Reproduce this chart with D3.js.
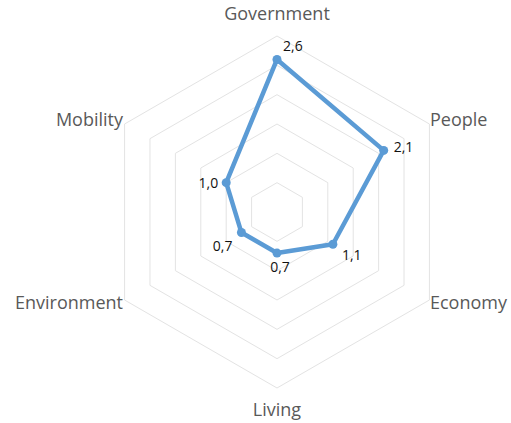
<!DOCTYPE html>
<html>
<head>
<meta charset="utf-8">
<script src="https://cdn.jsdelivr.net/npm/d3@7"></script>
<style>
  body { margin: 0; background: #fff; }
</style>
</head>
<body>
<div id="radar"></div>
<script>
// Data
var categories = ["Government", "People", "Economy", "Living", "Environment", "Mobility"];
var values = [2.6, 2.1, 1.1, 0.7, 0.7, 1.0];
var valueLabels = ["2,6", "2,1", "1,1", "0,7", "0,7", "1,0"];
var gridLevels = [0.5, 1, 1.5, 2, 2.5, 3];

const width = 511, height = 423;
const cx = 277, cy = 212, radius = 176;

var svg = d3.select("#radar")
    .append("svg")
    .attr("width", width)
    .attr("height", height)
    .append("g")
    .attr("transform", "translate(" + cx + "," + cy + ")");

var r = d3.scaleLinear().domain([0, 3]).range([0, radius]);
var angle = d3.scalePoint().domain(categories).range([0, 2 * Math.PI * 5 / 6]);

function px(cat, v) { return r(v) * Math.sin(angle(cat)); }
function py(cat, v) { return -r(v) * Math.cos(angle(cat)); }

// grid hexagons
svg.selectAll(".grid")
    .data(gridLevels)
    .enter().append("polygon")
    .attr("points", function(l) {
        return categories.map(function(c) { return px(c, l) + "," + py(c, l); }).join(" ");
    })
    .style("fill", "none")
    .style("stroke", "#e3e3e3")
    .style("stroke-width", 1);

// series line
var line = d3.lineRadial()
    .angle(function(d, i) { return angle(categories[i]); })
    .radius(function(d) { return r(d); })
    .curve(d3.curveLinearClosed);

svg.append("path")
    .datum(values)
    .attr("d", line)
    .style("fill", "none")
    .style("stroke", "#5b9bd5")
    .style("stroke-width", 4.5)
    .style("stroke-linejoin", "round");

svg.selectAll(".dot")
    .data(values)
    .enter().append("circle")
    .attr("r", 4.5)
    .attr("cx", function(d, i) { return px(categories[i], d); })
    .attr("cy", function(d, i) { return py(categories[i], d); })
    .style("fill", "#5b9bd5");

// data labels (offsets from point, Excel-like placement)
var labelOffsets = [[6, -8, "start"], [10, 2, "start"], [9, 16, "start"], [3, 19, "middle"], [-9, 18, "end"], [-8, 5, "end"]];
svg.selectAll(".vlabel")
    .data(values)
    .enter().append("text")
    .attr("x", function(d, i) { return px(categories[i], d) + labelOffsets[i][0]; })
    .attr("y", function(d, i) { return py(categories[i], d) + labelOffsets[i][1]; })
    .attr("text-anchor", function(d, i) { return labelOffsets[i][2]; })
    .text(function(d, i) { return valueLabels[i]; })
    .style("font-family", "'Open Sans', sans-serif")
    .style("font-size", "14px")
    .style("fill", "#111");

// category labels
var catPos = [[0, -192, "middle"], [153, -86, "start"], [153, 97, "start"], [0, 204, "middle"], [-154, 97, "end"], [-154, -86, "end"]];
svg.selectAll(".clabel")
    .data(categories)
    .enter().append("text")
    .attr("x", function(d, i) { return catPos[i][0]; })
    .attr("y", function(d, i) { return catPos[i][1]; })
    .attr("text-anchor", function(d, i) { return catPos[i][2]; })
    .text(function(d) { return d; })
    .style("font-family", "'Open Sans', sans-serif")
    .style("font-size", "18px")
    .style("fill", "#595959");
</script>
</body>
</html>
